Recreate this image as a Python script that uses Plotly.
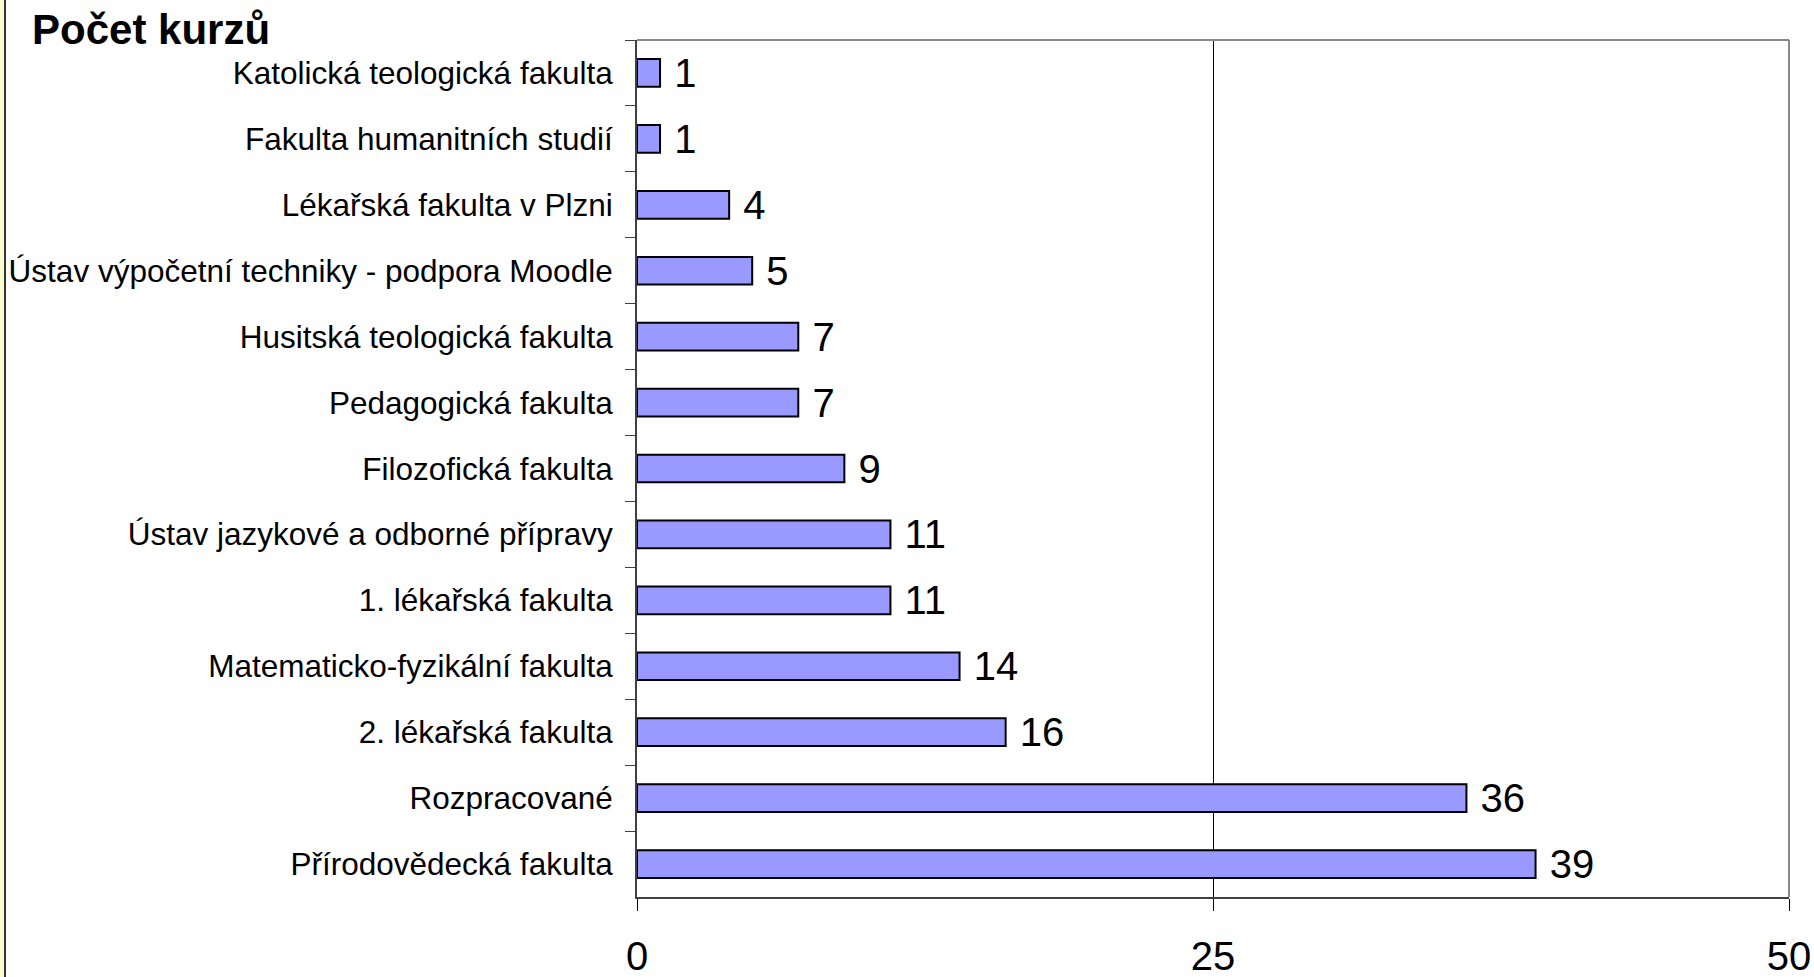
import plotly.graph_objects as go

categories = [
    "Katolická teologická fakulta",
    "Fakulta humanitních studií",
    "Lékařská fakulta v Plzni",
    "Ústav výpočetní techniky - podpora Moodle",
    "Husitská teologická fakulta",
    "Pedagogická fakulta",
    "Filozofická fakulta",
    "Ústav jazykové a odborné přípravy",
    "1. lékařská fakulta",
    "Matematicko-fyzikální fakulta",
    "2. lékařská fakulta",
    "Rozpracované",
    "Přírodovědecká fakulta",
]
counts = [1, 1, 4, 5, 7, 7, 9, 11, 11, 14, 16, 36, 39]
x_ticks = [0, 25, 50]
title_text = "Počet kurzů"

W, H = 1814, 977
L, R, T, B = 637, 1789, 40, 897
FONT = "Liberation Sans, Arial, sans-serif"

def px_x(p):
    return (p - L) / (R - L)

def px_y(p):
    return (B - p) / (B - T)

fig = go.Figure(
    go.Bar(
        y=categories,
        x=counts,
        orientation="h",
        width=0.42,
        marker=dict(color="#9999FF", line=dict(color="#000000", width=2)),
        text=counts,
        texttemplate=" %{x}",
        textposition="outside",
        constraintext="none",
        cliponaxis=False,
        textfont=dict(family=FONT, size=40, color="#000000"),
        hoverinfo="x+y",
    )
)

fig.update_layout(
    width=W,
    height=H,
    margin=dict(l=L, r=W - R, t=T, b=H - B, autoexpand=False),
    paper_bgcolor="#FFFFFF",
    plot_bgcolor="#FFFFFF",
    showlegend=False,
    title=dict(
        text="<b>" + title_text + "</b>",
        x=32 / W,
        xanchor="left",
        xref="container",
        y=1 - 29 / H,
        yref="container",
        yanchor="middle",
        font=dict(family=FONT, size=42, color="#000000"),
    ),
    xaxis=dict(
        range=[0, 50],
        tickvals=x_ticks,
        ticktext=[str(v) for v in x_ticks],
        ticks="outside",
        ticklen=12,
        tickwidth=1,
        tickcolor="#000000",
        showline=True,
        linecolor="#404040",
        linewidth=2,
        showgrid=True,
        gridcolor="#000000",
        gridwidth=1,
        zeroline=False,
        tickfont=dict(family=FONT, size=40, color="#000000"),
        ticklabelstandoff=11,
        fixedrange=True,
    ),
    yaxis=dict(
        categoryorder="array",
        categoryarray=categories,
        autorange="reversed",
        ticks="outside",
        tickson="boundaries",
        ticklen=10,
        tickwidth=1,
        tickcolor="#404040",
        showline=True,
        linecolor="#404040",
        linewidth=2,
        showgrid=False,
        zeroline=False,
        tickfont=dict(family=FONT, size=31.5, color="#000000"),
        ticklabelstandoff=16,
        fixedrange=True,
    ),
    shapes=[
        # plot-area border (top and right, gray)
        dict(type="line", xref="paper", yref="paper", x0=0, x1=1, y0=1, y1=1,
             line=dict(color="#888888", width=2), layer="above"),
        dict(type="line", xref="paper", yref="paper", x0=1, x1=1, y0=0, y1=1,
             line=dict(color="#888888", width=2), layer="above"),
        # left yellow strip and dark edge line of the page
        dict(type="rect", xref="paper", yref="paper",
             x0=px_x(0), x1=px_x(4), y0=px_y(H), y1=px_y(0),
             fillcolor="#FFFFCC", line=dict(width=0), layer="below"),
        dict(type="line", xref="paper", yref="paper",
             x0=px_x(5), x1=px_x(5), y0=px_y(H), y1=px_y(0),
             line=dict(color="#333333", width=2), layer="above"),
    ],
)

fig.write_html(
    "out.html",
    config={"displayModeBar": False},
    post_script="document.body.style.margin='0';document.body.style.overflow='hidden';",
)
